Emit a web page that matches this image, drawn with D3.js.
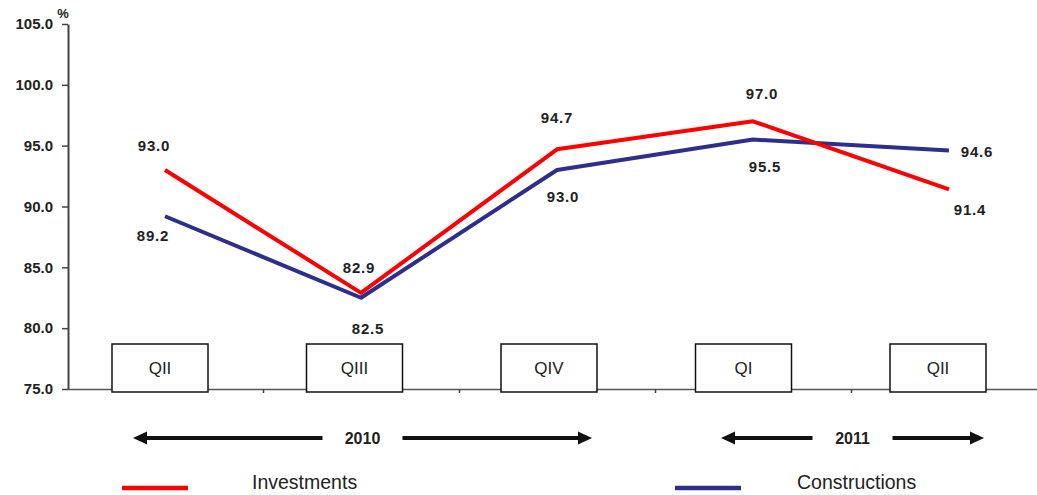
<!DOCTYPE html>
<html>
<head>
<meta charset="utf-8">
<script src="https://cdn.jsdelivr.net/npm/d3@7"></script>
<style>
  html, body { margin: 0; padding: 0; background: #fff; }
  svg { display: block; }
</style>
</head>
<body>
<svg id="chart" width="1037" height="495"></svg>
<script>
// ---- data ----
const periods = ["2010 QII", "2010 QIII", "2010 QIV", "2011 QI", "2011 QII"];
const quarterLabels = ["QII", "QIII", "QIV", "QI", "QII"];
const investments = [93.0, 82.9, 94.7, 97.0, 91.4];
const constructions = [89.2, 82.5, 93.0, 95.5, 94.6];
const yTicks = [75, 80, 85, 90, 95, 100, 105];
const yearLabels = ["2010", "2011"];
const yearSpans = [[0, 2], [3, 4]];
const seriesNames = ["Investments", "Constructions"];

// ---- layout (label placement relative to point) ----
const invLabelOffsets = [[-11, -24], [-2, -25], [0, -31], [9, -27], [21, 21]];
const conLabelOffsets = [[-12, 20], [7, 31], [6, 27], [12, 27], [28, 1]];

const colors = { inv: "#ff0000", con: "#2e2e8f" };
const textColor = "#222";
const labelFont = "'Liberation Sans', Arial, sans-serif";

const svg = d3.select("#chart");

const y = d3.scaleLinear().domain([75, 105]).range([389, 24]);
const x = d3.scaleBand().domain(periods).range([67, 1047]).paddingInner(0).paddingOuter(0);
const xc = p => x(p) + x.bandwidth() / 2;
const xi = d3.scaleLinear().domain([-0.5, 4.5]).range([67, 1047]);
const boxX = d3.scalePoint().domain(periods).range([160, 938]);

// ---- Y axis ----
const yAxis = svg.append("g")
  .attr("transform", "translate(68,0)")
  .call(d3.axisLeft(y).tickValues(yTicks).tickFormat(d3.format(".1f"))
    .tickSize(6).tickSizeOuter(0).tickPadding(9));
yAxis.select(".domain").attr("stroke", "#444").attr("stroke-width", 2);
yAxis.selectAll(".tick line").attr("stroke", "#444").attr("stroke-width", 1.5);
yAxis.selectAll(".tick text")
  .attr("fill", textColor)
  .style("font-family", labelFont)
  .style("font-weight", "bold")
  .style("font-size", "15px");

svg.append("text")
  .attr("x", 63).attr("y", 18)
  .attr("text-anchor", "middle")
  .attr("fill", textColor)
  .style("font-family", labelFont)
  .style("font-weight", "bold")
  .style("font-size", "13px")
  .text("%");

// ---- X axis ----
const xAxis = svg.append("g")
  .attr("transform", `translate(0,${y(75)})`)
  .call(d3.axisBottom(xi).tickValues([0.5, 1.5, 2.5, 3.5]).tickFormat("")
    .tickSize(4).tickSizeOuter(0));
xAxis.select(".domain").attr("stroke", "#555").attr("stroke-width", 1.5);
xAxis.selectAll(".tick line").attr("stroke", "#444").attr("stroke-width", 1.5);

// ---- Quarter boxes ----
const boxW = 96, boxH = 48;
const boxes = svg.append("g").selectAll("g").data(periods).join("g");
boxes.append("rect")
  .attr("x", d => boxX(d) - boxW / 2)
  .attr("y", y(75) + 3 - boxH)
  .attr("width", boxW).attr("height", boxH)
  .attr("fill", "#fff").attr("stroke", "#111").attr("stroke-width", 1.5);
boxes.append("text")
  .attr("x", d => boxX(d))
  .attr("y", y(75) + 3 - boxH / 2 + 6)
  .attr("text-anchor", "middle")
  .attr("fill", textColor)
  .style("font-family", labelFont)
  .style("font-size", "17px")
  .text((d, i) => quarterLabels[i]);

// ---- Lines ----
const line = d3.line().x((d, i) => xc(periods[i])).y(d => y(d));
svg.append("path").datum(constructions)
  .attr("d", line).attr("fill", "none")
  .attr("stroke", colors.con).attr("stroke-width", 4).attr("stroke-linejoin", "round");
svg.append("path").datum(investments)
  .attr("d", line).attr("fill", "none")
  .attr("stroke", colors.inv).attr("stroke-width", 4).attr("stroke-linejoin", "round");

// ---- Value labels ----
function addLabels(values, offsets) {
  svg.append("g").selectAll("text").data(values).join("text")
    .attr("x", (d, i) => xc(periods[i]) + offsets[i][0])
    .attr("y", (d, i) => y(d) + offsets[i][1] + 5)
    .attr("text-anchor", "middle")
    .attr("fill", textColor)
    .style("font-family", labelFont)
    .style("font-weight", "bold")
    .style("font-size", "15px")
    .style("letter-spacing", "0.8px")
    .text(d => d3.format(".1f")(d));
}
addLabels(investments, invLabelOffsets);
addLabels(constructions, conLabelOffsets);

// ---- Year arrows ----
const arrowY = 438;
const yearG = svg.append("g").selectAll("g").data(yearLabels).join("g");
yearG.each(function (lab, k) {
  const g = d3.select(this);
  const [a, b] = yearSpans[k];
  const x0 = x(periods[a]) + 66;
  const x1 = x(periods[b]) + x.bandwidth() - 63;
  const head = 14, hh = 6.5;
  g.append("line")
    .attr("x1", x0 + head - 2).attr("x2", x1 - head + 2)
    .attr("y1", arrowY).attr("y2", arrowY)
    .attr("stroke", "#111").attr("stroke-width", 4);
  g.append("path")
    .attr("d", `M${x0},${arrowY} L${x0 + head},${arrowY - hh} L${x0 + head},${arrowY + hh} Z`)
    .attr("fill", "#111");
  g.append("path")
    .attr("d", `M${x1},${arrowY} L${x1 - head},${arrowY - hh} L${x1 - head},${arrowY + hh} Z`)
    .attr("fill", "#111");
  const cx = (x0 + x1) / 2;
  g.append("rect")
    .attr("x", cx - 40).attr("y", arrowY - 12)
    .attr("width", 80).attr("height", 24)
    .attr("fill", "#fff");
  g.append("text")
    .attr("x", cx).attr("y", arrowY + 6)
    .attr("text-anchor", "middle")
    .attr("fill", textColor)
    .style("font-family", labelFont)
    .style("font-weight", "bold")
    .style("font-size", "16px")
    .text(lab);
});

// ---- Legend ----
const legendItems = [
  { name: seriesNames[0], color: colors.inv, lx: 122, tx: 252 },
  { name: seriesNames[1], color: colors.con, lx: 675, tx: 797 }
];
const lg = svg.append("g").selectAll("g").data(legendItems).join("g");
lg.append("line")
  .attr("x1", d => d.lx).attr("x2", d => d.lx + 66)
  .attr("y1", 488).attr("y2", 488)
  .attr("stroke", d => d.color).attr("stroke-width", 4.5);
lg.append("text")
  .attr("x", d => d.tx).attr("y", 489)
  .attr("fill", textColor)
  .style("font-family", labelFont)
  .style("font-size", "19.5px")
  .text(d => d.name);
</script>
</body>
</html>
